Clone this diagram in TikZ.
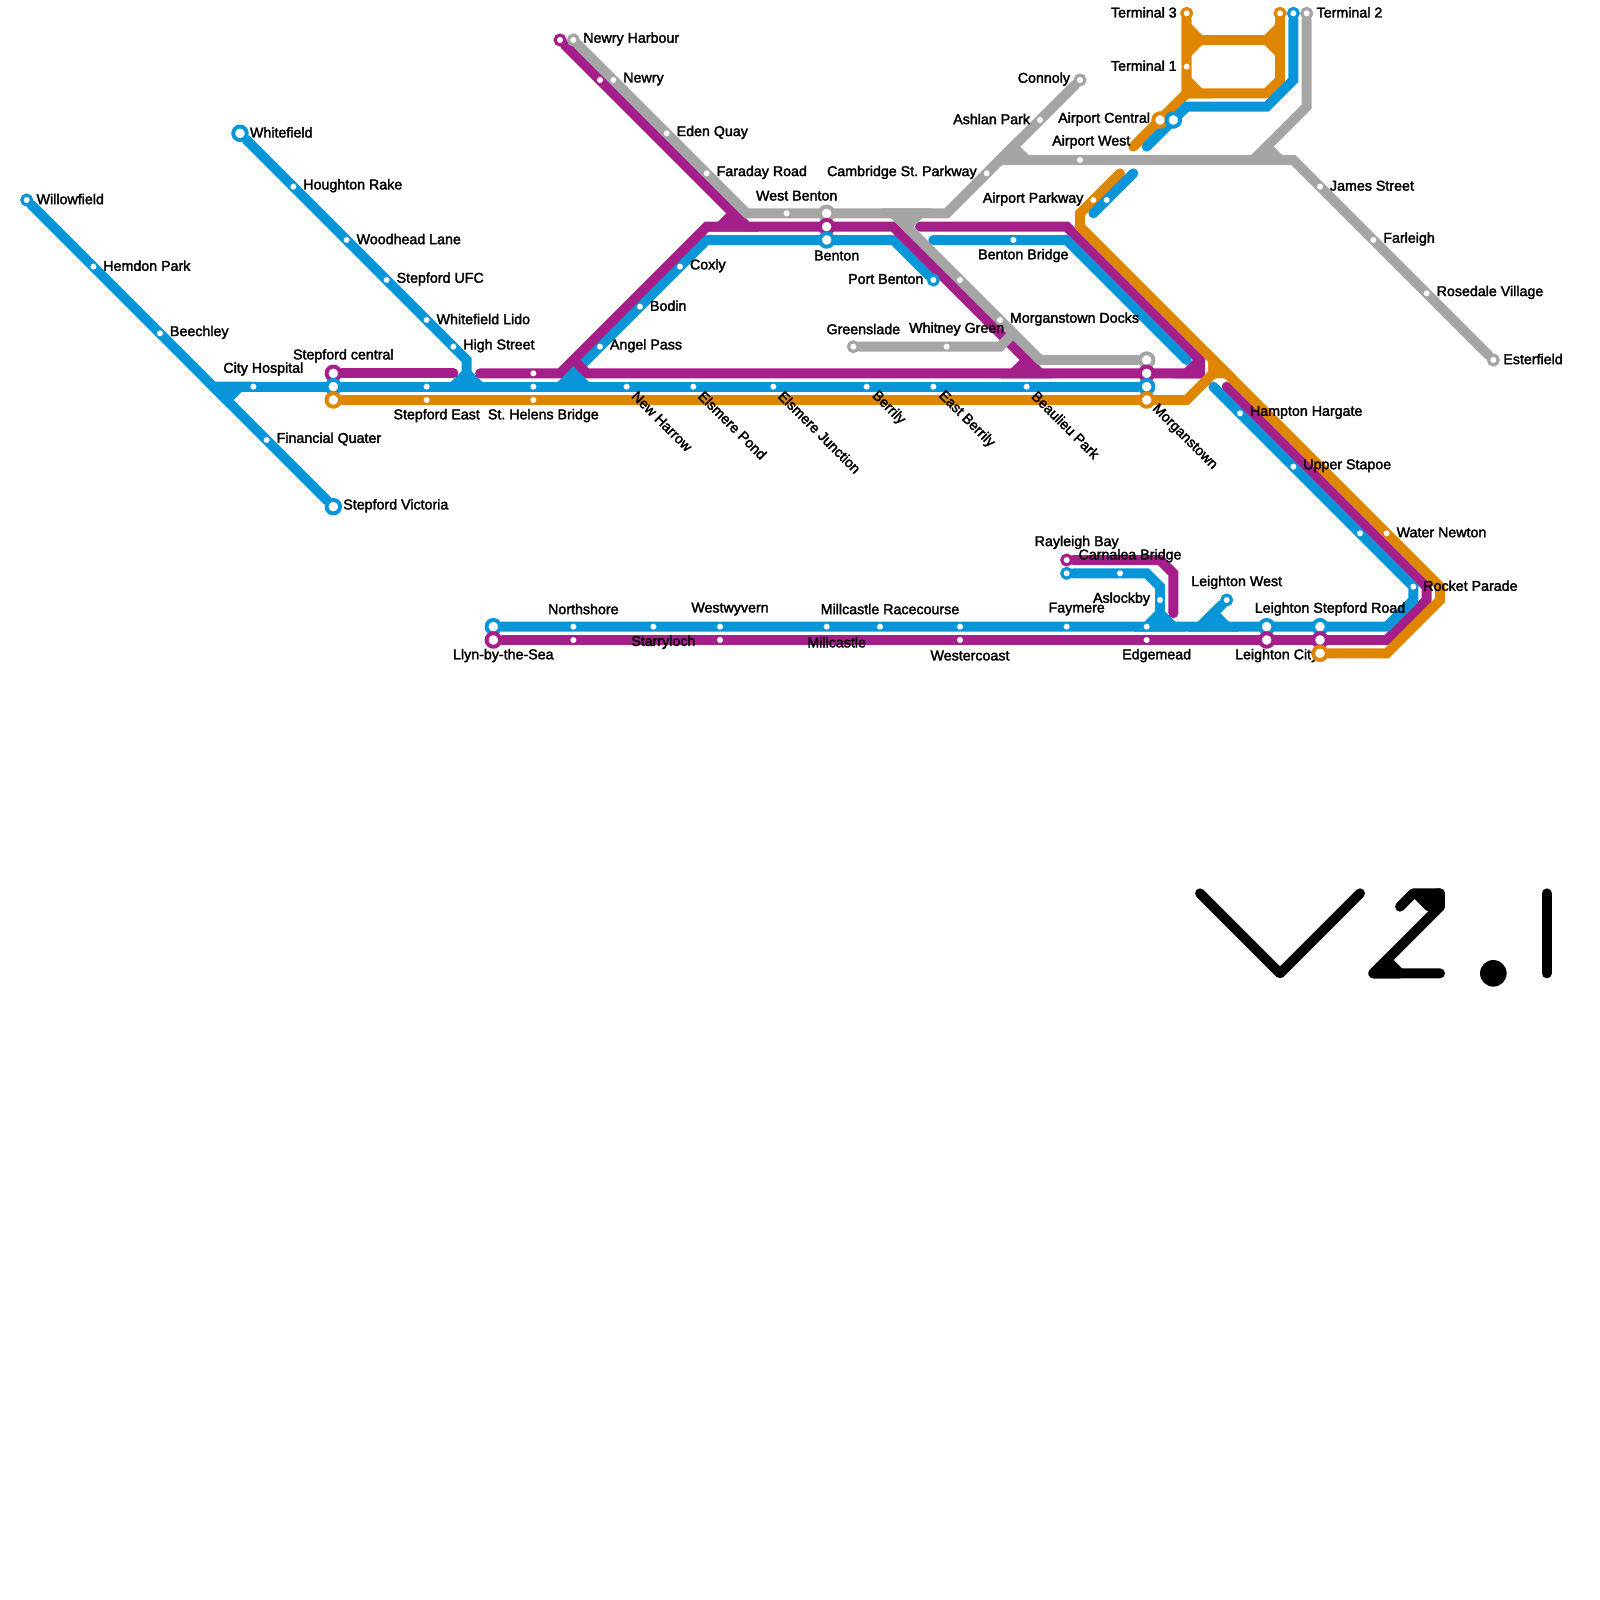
\documentclass[tikz,border=0pt]{standalone}
\usepackage{fontspec}
\setmainfont[FakeBold=2.2]{Liberation Sans}
\definecolor{mBlue}{HTML}{0896D8}
\definecolor{mPurple}{HTML}{A51F8A}
\definecolor{mOrange}{HTML}{DF8600}
\definecolor{mGray}{HTML}{A5A5A5}
\pgfdeclarelayer{lines}
\pgfsetlayers{lines,main}
\tikzset{
  ln/.style={line width=5.3pt,line cap=round,line join=miter},
  lnB/.style={ln,draw=mBlue},
  lnP/.style={ln,draw=mPurple},
  lnO/.style={ln,draw=mOrange},
  lnG/.style={ln,draw=mGray},
  lnK/.style={ln,draw=black,line join=round},
  tB/.style={lnB,fill=mBlue,line cap=butt},
  tP/.style={lnP,fill=mPurple,line cap=butt},
  tO/.style={lnO,fill=mOrange,line cap=butt},
  tG/.style={lnG,fill=mGray,line cap=butt},
  tK/.style={lnK,fill=black},
  sm/.style={circle,fill=white,inner sep=0pt,minimum size=3.2pt},
  stnend/.style={circle,fill=white,draw=#1,line width=1.7pt,inner sep=0pt,minimum size=5.2pt},
  stnbig/.style={circle,fill=white,draw=#1,line width=2.1pt,inner sep=0pt,minimum size=7.2pt},
  lbl/.style={inner sep=0pt,font=\fontsize{7.6}{9}\selectfont\frenchspacing,text=black},
}
\newcommand\stn[4]{\node[#1] (#2) at (#3,#4) {};}
\newcommand\lR[2]{\node[lbl,anchor=west] (#1-t) at ([shift={(.72,-.07)}]#1) {#2};}
\newcommand\lL[2]{\node[lbl,anchor=east] (#1-t) at ([shift={(-.72,-.07)}]#1) {#2};}
\newcommand\lA[2]{\node[lbl] (#1-t) at ([shift={(.75,-1.32)}]#1) {#2};}
\newcommand\lB[2]{\node[lbl] (#1-t) at ([shift={(.75,1.17)}]#1) {#2};}
\newcommand\lD[2]{\node[lbl,anchor=west,rotate=-45] (#1-t) at ([shift={(.55,.5)}]#1) {#2};}
\begin{document}
\begin{tikzpicture}[x=.25cm,y=-.25cm]
\useasboundingbox (0,0) rectangle (120,120);
% bend points
\foreach \x/\y in {16/29,17/30,18/29,34/28,34/29,35/27,35/28,35/29,36/28,36/29,
  42/28,42/29,43/27,43/28,43/29,44/28,44/29,53/17,53/18,54/17,55/16,56/16,56/17,
  67/16,67/17,67/18,68/17,69/16,69/17,70/18,71/16,75/12,75/26,76/11,76/25,76/28,
  77/12,77/27,78/27,78/28,80/17,80/18,81/16,81/17,84/13,85/13,82/16,85/11,86/11,
  86/43,87/42,87/44,87/46,88/43,88/46,88/47,89/2,89/4,89/6,89/7,89/8,89/27,89/28,89/30,
  90/3,90/7,90/27,90/28,90/47,91/27,91/28,91/29,91/46,92/28,92/29,92/47,
  94/12,95/3,95/7,95/8,95/11,96/2,96/4,96/6,96/12,97/6,97/12,98/8,
  104/47,104/48,104/49,106/45,107/44,107/45,108/44,108/45,
  90/67,96/73,102/67,105/68,106/67,108/67,108/68,103/73,108/73,107/68,105/73,104/72,116/67,116/73}
  {\coordinate (b\x-\y) at (\x,\y);}
% ---- stations: blue west
\stn{stnend=mBlue}{willow}{2}{15}\lR{willow}{Willowfield}
\stn{sm}{hemdon}{7}{20}\lR{hemdon}{Hemdon Park}
\stn{sm}{beech}{12}{25}\lR{beech}{Beechley}
\stn{sm}{financial}{20}{33}\lR{financial}{Financial Quater}
\stn{stnbig=mBlue}{stepvic}{25}{38}\lR{stepvic}{Stepford Victoria}
\stn{stnbig=mBlue}{whitef}{18}{10}\lR{whitef}{Whitefield}
\stn{sm}{houghton}{22}{14}\lR{houghton}{Houghton Rake}
\stn{sm}{woodhead}{26}{18}\lR{woodhead}{Woodhead Lane}
\stn{sm}{ufc}{29}{21}\lR{ufc}{Stepford UFC}
\stn{sm}{lido}{32}{24}\lR{lido}{Whitefield Lido}
\stn{sm}{high}{34}{26}\lR{high}{High Street}
\stn{sm}{cityh}{19}{29}\lA{cityh}{City Hospital}
% ---- central rows
\stn{stnbig=mPurple}{scP}{25}{28}\lA{scP}{Stepford central}
\stn{stnbig=mBlue}{scB}{25}{29}
\stn{stnbig=mOrange}{scO}{25}{30}
\stn{sm}{seB}{32}{29}
\stn{sm}{seO}{32}{30}\lB{seO}{Stepford East}
\stn{sm}{shP}{40}{28}
\stn{sm}{shB}{40}{29}
\stn{sm}{shO}{40}{30}\lB{shO}{St. Helens Bridge}
\stn{sm}{harrow}{47}{29}\lD{harrow}{New Harrow}
\stn{sm}{epond}{52}{29}\lD{epond}{Elsmere Pond}
\stn{sm}{ejunc}{58}{29}\lD{ejunc}{Elsmere Junction}
\stn{sm}{berrily}{65}{29}\lD{berrily}{Berrily}
\stn{sm}{eberrily}{70}{29}\lD{eberrily}{East Berrily}
\stn{sm}{beaulieu}{77}{29}\lD{beaulieu}{Beaulieu Park}
\stn{stnbig=mGray}{mgG}{86}{27}
\stn{stnbig=mPurple}{mgP}{86}{28}
\stn{stnbig=mBlue}{mgB}{86}{29}
\stn{stnbig=mOrange}{mgO}{86}{30}\lD{mgO}{Morganstown}
% ---- angel branch
\stn{sm}{angel}{45}{26}\lR{angel}{Angel Pass}
\stn{sm}{bodin}{48}{23}\lR{bodin}{Bodin}
\stn{sm}{coxly}{51}{20}\lR{coxly}{Coxly}
% ---- newry
\stn{stnend=mPurple}{nhP}{42}{3}
\stn{stnend=mGray}{nhG}{43}{3}\lR{nhG}{Newry Harbour}
\stn{sm}{nwP}{45}{6}
\stn{sm}{nwG}{46}{6}\lR{nwG}{Newry}
\stn{sm}{eden}{50}{10}\lR{eden}{Eden Quay}
\stn{sm}{faraday}{53}{13}\lR{faraday}{Faraday Road}
\stn{sm}{wbenton}{59}{16}\lA{wbenton}{West Benton}
\stn{stnbig=mGray}{bnG}{62}{16}
\stn{stnbig=mPurple}{bnP}{62}{17}
\stn{stnbig=mBlue}{bnB}{62}{18}\lB{bnB}{Benton}
\stn{stnend=mBlue}{pbenton}{70}{21}\lL{pbenton}{Port Benton}
\stn{sm}{gd72}{72}{21}
\stn{sm}{docks}{75}{24}\lR{docks}{Morganstown Docks}
\stn{stnend=mGray}{green}{64}{26}\lA{green}{Greenslade}
\stn{sm}{whitney}{71}{26}\lA{whitney}{Whitney Green}
\stn{sm}{bbridge}{76}{18}\lB{bbridge}{Benton Bridge}
% ---- gray north east
\stn{sm}{cambridge}{74}{13}\lL{cambridge}{Cambridge St. Parkway}
\stn{sm}{ashlan}{78}{9}\lL{ashlan}{Ashlan Park}
\stn{stnend=mGray}{connoly}{81}{6}\lL{connoly}{Connoly}
\stn{sm}{awest}{81}{12}
\node[lbl,anchor=east] (awest-t) at ([shift={(3.8,-1.36)}]awest) {Airport West};
\stn{sm}{james}{99}{14}\lR{james}{James Street}
\stn{sm}{farleigh}{103}{18}\lR{farleigh}{Farleigh}
\stn{sm}{rosedale}{107}{22}\lR{rosedale}{Rosedale Village}
\stn{stnend=mGray}{ester}{112}{27}\lR{ester}{Esterfield}
\stn{stnend=mGray}{term2}{98}{1}\lR{term2}{Terminal 2}
% ---- airport
\stn{stnend=mOrange}{term3}{89}{1}\lL{term3}{Terminal 3}
\stn{sm}{term1}{89}{5}\lL{term1}{Terminal 1}
\stn{stnend=mOrange}{t3r}{96}{1}
\stn{stnend=mBlue}{t2b}{97}{1}
\stn{stnbig=mOrange}{acO}{87}{9}\lL{acO}{Airport Central}
\stn{stnbig=mBlue}{acB}{88}{9}
\stn{sm}{apO}{82}{15}\lL{apO}{Airport Parkway}
\stn{sm}{apB}{83}{15}
% ---- east
\stn{sm}{hampton}{93}{31}\lR{hampton}{Hampton Hargate}
\stn{sm}{stapoe}{97}{35}\lR{stapoe}{Upper Stapoe}
\stn{sm}{b102}{102}{40}
\stn{sm}{water}{104}{40}\lR{water}{Water Newton}
\stn{sm}{rocket}{106}{44}\lR{rocket}{Rocket Parade}
% ---- south rows
\stn{stnbig=mBlue}{llB}{37}{47}
\stn{stnbig=mPurple}{llP}{37}{48}\lB{llP}{Llyn-by-the-Sea}
\stn{sm}{northB}{43}{47}\lA{northB}{Northshore}
\stn{sm}{northP}{43}{48}
\stn{sm}{starry}{49}{47}\lB{starry}{Starryloch}
\stn{sm}{wwB}{54}{47}\lA{wwB}{Westwyvern}
\stn{sm}{wwP}{54}{48}
\stn{sm}{mill}{62}{47}\lB{mill}{Millcastle}
\stn{sm}{millr}{66}{47}\lA{millr}{Millcastle Racecourse}
\stn{sm}{wcB}{72}{47}
\stn{sm}{wcP}{72}{48}\lB{wcP}{Westercoast}
\stn{sm}{faymere}{80}{47}\lA{faymere}{Faymere}
\stn{sm}{edB}{86}{47}
\stn{sm}{edP}{86}{48}\lB{edP}{Edgemead}
\stn{stnend=mPurple}{ray}{80}{42}\lA{ray}{Rayleigh Bay}
\stn{stnend=mBlue}{ray2}{80}{43}
\stn{sm}{carn}{84}{43}\lA{carn}{Carnalea Bridge}
\stn{sm}{aslock}{87}{45}\lL{aslock}{Aslockby}
\stn{stnend=mBlue}{lwest}{92}{45}\lA{lwest}{Leighton West}
\stn{stnbig=mBlue}{lcB}{95}{47}
\stn{stnbig=mPurple}{lcP}{95}{48}\lB{lcP}{Leighton City}
\stn{stnbig=mBlue}{lsB}{99}{47}\lA{lsB}{Leighton Stepford Road}
\stn{stnbig=mPurple}{lsP}{99}{48}
\stn{stnbig=mOrange}{lsO}{99}{49}
% ---- version mark
\node[circle,fill=black,inner sep=0pt,minimum size=14.2pt] (dot) at (112,73) {};
\begin{pgfonlayer}{lines}
% blue, under purple
\draw[lnB] (willow)--(stepvic);
\draw[lnB] (whitef)--(high.center)--(b35-27)--(b35-29);
\draw[lnB] (b16-29)--(mgB);
\draw[tB] (b16-29)--(b18-29)--(b17-30)--cycle;
\draw[tB] (b34-29)--(b35-28)--(b36-29)--cycle;
\draw[lnB] (b43-28)--(b53-18)--(b67-18)--(pbenton);
% purple
\draw[lnP] (scP)--(b34-28);
\draw[lnP] (b36-28)--(b42-28)--(b53-17)--(b67-17)--(b78-28);
\draw[lnP] (b43-27)--(b44-28)--(b90-28)--(b90-27)--(b80-17)--(b69-17);
\draw[lnP] (nhP)--(b56-17);
\draw[tP] (b54-17)--(b55-16)--(b56-17)--cycle;
\draw[tP] (b76-28)--(b77-27)--(b78-28)--cycle;
\draw[tP] (b89-28)--(b90-27)--(b90-28)--cycle;
\draw[lnP] (b92-29)--(b107-44)--(b107-45)--(b104-48)--(llP);
\draw[lnP] (ray)--(b87-42)--(b88-43)--(b88-46);
% orange
\draw[lnO] (scO)--(b89-30)--(b91-28)--(b91-27);
\draw[tO] (b91-27)--(b91-28)--(b92-28)--cycle;
\draw[lnO] (b84-13)--(b81-16)--(b81-17)--(b108-44)--(b108-45)--(b104-49)--(lsO);
\draw[lnO] (term3)--(b89-7)--(b85-11);
\draw[lnO] (t3r)--(b96-6)--(b95-7)--(b89-7);
\draw[tO] (b89-6)--(b90-7)--(b89-7)--cycle;
\draw[lnO] (b90-3)--(b95-3);
\draw[tO] (b89-2)--(b90-3)--(b89-4)--cycle;
\draw[tO] (b96-2)--(b95-3)--(b96-4)--cycle;
% gray
\draw[lnG] (nhG)--(b56-16)--(b71-16)--(connoly);
\draw[tG] (b75-12)--(b76-11)--(b77-12)--cycle;
\draw[lnG] (b75-12)--(b97-12)--(ester);
\draw[lnG] (term2)--(b98-8)--(b94-12);
\draw[tG] (b94-12)--(b95-11)--(b96-12)--cycle;
\draw[tG] (b67-16)--(b69-16)--(b68-17)--cycle;
\draw[lnG] (b67-16)--(b78-27)--(mgG);
\draw[lnG] (green)--(b75-26)--(b76-25);
% blue, over purple
\draw[tB] (b42-29)--(b43-28)--(b44-29)--cycle;
\draw[lnB] (b70-18)--(b80-18)--(b89-27);
\draw[lnB] (b91-29)--(rocket.center)--(b106-45)--(b104-47)--(llB);
\draw[lnB] (ray2)--(b86-43)--(b87-44)--(b87-46)--(edB);
\draw[tB] (edB.center)--(b87-46)--(b88-47)--cycle;
\draw[lnB] (lwest)--(b90-47);
\draw[tB] (b90-47)--(b91-46)--(b92-47)--cycle;
\draw[lnB] (b86-11)--(b89-8)--(b95-8)--(b97-6)--(t2b);
\draw[lnB] (b85-13)--(b82-16);
% version mark
\draw[lnK] (b90-67)--(b96-73)--(b102-67);
\draw[lnK] (b105-68)--(b106-67)--(b108-67)--(b108-68)--(b103-73)--(b108-73);
\draw[tK] ([shift={(.2,0)}]b107-68)--([shift={(.4,.2)}]b106-67)--(b108-67)--(b108-68)--cycle;
\draw[tK] (b103-73)--(b104-72)--(b105-73)--cycle;
\draw[lnK] (b116-67)--(b116-73);
\end{pgfonlayer}
\end{tikzpicture}
\end{document}
